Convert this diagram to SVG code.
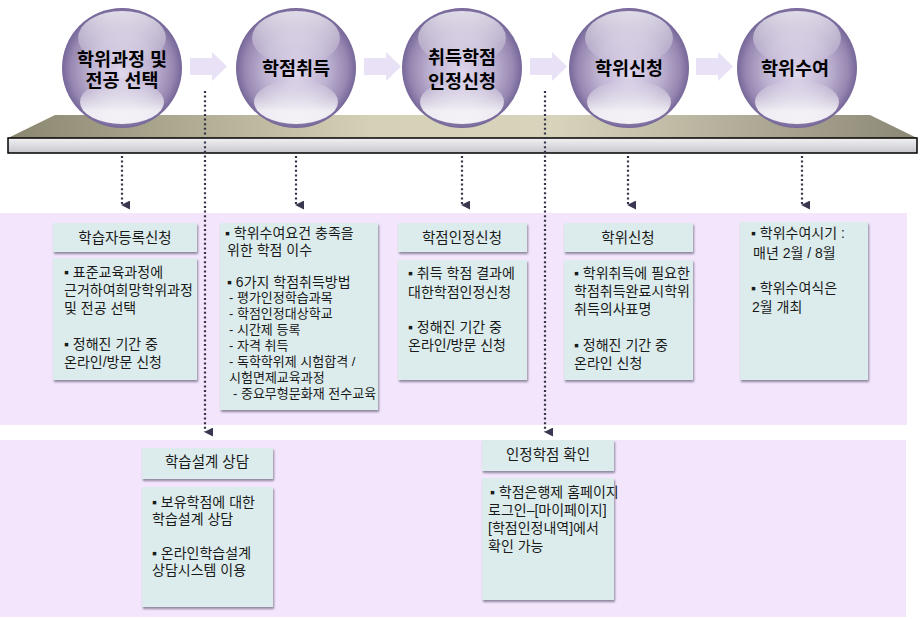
<svg xmlns="http://www.w3.org/2000/svg" width="923" height="620" viewBox="0 0 923 620">
<defs>
  <radialGradient id="sgBody" cx="0.5" cy="0.5" r="0.5" fx="0.5" fy="0.55">
    <stop offset="0" stop-color="#e0d8ec"/>
    <stop offset="0.55" stop-color="#bcb0d0"/>
    <stop offset="0.85" stop-color="#9888b2"/>
    <stop offset="1" stop-color="#76679a"/>
  </radialGradient>
  <linearGradient id="sgTop" x1="0" y1="0" x2="0" y2="1">
    <stop offset="0" stop-color="#ffffff" stop-opacity="0.75"/>
    <stop offset="1" stop-color="#ffffff" stop-opacity="0"/>
  </linearGradient>
  <linearGradient id="sgBot" x1="0" y1="0" x2="0" y2="1">
    <stop offset="0" stop-color="#ffffff" stop-opacity="0"/>
    <stop offset="0.7" stop-color="#ffffff" stop-opacity="0.85"/>
    <stop offset="1" stop-color="#ffffff" stop-opacity="0.9"/>
  </linearGradient>
  <linearGradient id="plat" x1="0" y1="0" x2="1" y2="0">
    <stop offset="0" stop-color="#8b8670"/>
    <stop offset="0.4" stop-color="#d5d1b6"/>
    <stop offset="0.6" stop-color="#d8d4bc"/>
    <stop offset="1" stop-color="#8c8876"/>
  </linearGradient>
  <linearGradient id="bar" x1="0" y1="0" x2="0" y2="1">
    <stop offset="0" stop-color="#f2f2f4"/>
    <stop offset="1" stop-color="#c6c6ce"/>
  </linearGradient>
  <filter id="sh" x="-10%" y="-10%" width="125%" height="130%">
    <feDropShadow dx="1" dy="2" stdDeviation="1" flood-color="#6a6680" flood-opacity="0.75"/>
  </filter>
  <g id="sphere">
    <circle cx="0" cy="0" r="60" fill="url(#sgBody)"/>
    <ellipse cx="0" cy="34" rx="42" ry="22" fill="url(#sgBot)"/>
    <ellipse cx="0" cy="-30" rx="44" ry="27" fill="url(#sgTop)"/>
  </g>
  <path id="chev" d="M0,5 H22 V-1 L37,13.5 L22,28 V22 H0 Z" fill="#e9e1f5"/>
  <marker id="ah" viewBox="0 0 10 10" refX="5" refY="9" markerWidth="9" markerHeight="9" markerUnits="userSpaceOnUse" orient="auto-start-reverse">
    <path d="M0,0 L10,0 L5,10 Z" fill="#3a3850"/>
  </marker>
  <style>
    .band { fill: #f3e5fb; }
    .box { fill: #dcecec; filter: url(#sh); }
    .t { font-family: "Liberation Sans", "Noto Sans CJK KR", sans-serif; fill: #1a1a1a; }
    .hd { font-size: 14.5px; text-anchor: middle; }
    .bd { font-size: 14px; }
    .sm { font-size: 13px; }
    .sp { font-size: 18.5px; font-weight: bold; text-anchor: middle; fill: #000; }
    .dot { fill: none; stroke: #34324a; stroke-width: 2.2; stroke-dasharray: 2 2.6; marker-end: url(#ah); }
  </style>
</defs>

<rect width="923" height="620" fill="#ffffff"/>

<!-- bands -->
<rect class="band" x="0" y="213" width="907" height="212"/>
<rect class="band" x="0" y="440" width="906" height="177"/>

<!-- platform -->
<g id="platform">
  <polygon points="55,115 870,115 917,138 8,138" fill="url(#plat)"/>
  <rect x="8" y="138" width="909" height="15" fill="url(#bar)" stroke="#000" stroke-width="1.5"/>
</g>

<!-- chevron arrows between spheres -->
<g id="flow-arrows">
  <use href="#chev" x="190" y="53"/>
  <use href="#chev" x="364" y="53"/>
  <use href="#chev" x="530" y="53"/>
  <use href="#chev" x="696" y="53"/>
</g>

<!-- spheres -->
<g id="sphere-1"><use href="#sphere" x="122" y="68"/>
  <text class="t sp" x="122" y="66">학위과정 및<tspan x="122" dy="21">전공 선택</tspan></text></g>
<g id="sphere-2"><use href="#sphere" x="296" y="68"/>
  <text class="t sp" x="296" y="75">학점취득</text></g>
<g id="sphere-3"><use href="#sphere" x="462" y="68"/>
  <text class="t sp" x="462" y="64">취득학점<tspan x="462" dy="24">인정신청</tspan></text></g>
<g id="sphere-4"><use href="#sphere" x="629" y="68"/>
  <text class="t sp" x="629" y="75">학위신청</text></g>
<g id="sphere-5"><use href="#sphere" x="797" y="68"/>
  <text class="t sp" x="795" y="75">학위수여</text></g>

<!-- connectors -->
<g id="connectors">
  <line class="dot" x1="122" y1="156" x2="122" y2="205"/>
  <line class="dot" x1="296" y1="156" x2="296" y2="205"/>
  <line class="dot" x1="462" y1="156" x2="462" y2="205"/>
  <line class="dot" x1="628" y1="156" x2="628" y2="205"/>
  <line class="dot" x1="802" y1="156" x2="802" y2="205"/>
  <line class="dot" x1="205" y1="91" x2="205" y2="432"/>
  <line class="dot" x1="545" y1="91" x2="545" y2="432"/>
</g>

<!-- box 1 -->
<g id="box-register">
  <rect class="box" x="53" y="223" width="144" height="29"/>
  <text class="t hd" x="125" y="243">학습자등록신청</text>
  <rect class="box" x="53" y="258" width="144" height="122"/>
  <text class="t bd" x="64" y="277">▪ 표준교육과정에<tspan x="64" dy="18">근거하여희망학위과정</tspan><tspan x="64" dy="18">및 전공 선택</tspan><tspan x="64" dy="36">▪ 정해진 기간 중</tspan><tspan x="64" dy="18">온라인/방문 신청</tspan></text>
</g>

<!-- box 2 -->
<g id="box-credit">
  <rect class="box" x="220" y="223" width="158" height="187"/>
  <text class="t bd" x="225" y="238">▪ 학위수여요건 충족을<tspan x="227" dy="17">위한 학점 이수</tspan><tspan x="227" dy="32">▪ 6가지 학점취득방법</tspan><tspan class="sm" x="229" dy="15">- 평가인정학습과목</tspan><tspan class="sm" x="229" dy="16">- 학점인정대상학교</tspan><tspan class="sm" x="229" dy="16">- 시간제 등록</tspan><tspan class="sm" x="229" dy="16">- 자격 취득</tspan><tspan class="sm" x="229" dy="16">- 독학학위제 시험합격 /</tspan><tspan class="sm" x="229" dy="16">시험면제교육과정</tspan><tspan class="sm" x="233" dy="16">- 중요무형문화재 전수교육</tspan></text>
</g>

<!-- box 3 -->
<g id="box-recognition">
  <rect class="box" x="398" y="223" width="129" height="29"/>
  <text class="t hd" x="462" y="243">학점인정신청</text>
  <rect class="box" x="398" y="260" width="129" height="120"/>
  <text class="t bd" x="408" y="278">▪ 취득 학점 결과에<tspan x="408" dy="19">대한학점인정신청</tspan><tspan x="408" dy="35">▪ 정해진 기간 중</tspan><tspan x="408" dy="18">온라인/방문 신청</tspan></text>
</g>

<!-- box 4 -->
<g id="box-degree-apply">
  <rect class="box" x="564" y="223" width="129" height="29"/>
  <text class="t hd" x="628" y="243">학위신청</text>
  <rect class="box" x="564" y="260" width="129" height="120"/>
  <text class="t bd" x="574" y="278">▪ 학위취득에 필요한<tspan x="574" dy="18">학점취득완료시학위</tspan><tspan x="574" dy="18">취득의사표명</tspan><tspan x="574" dy="36">▪ 정해진 기간 중</tspan><tspan x="574" dy="18">온라인 신청</tspan></text>
</g>

<!-- box 5 -->
<g id="box-degree-award">
  <rect class="box" x="740" y="222" width="128" height="158"/>
  <text class="t bd" x="751" y="238">▪ 학위수여시기 :<tspan x="753" dy="20">매년 2월 / 8월</tspan><tspan x="751" dy="35">▪ 학위수여식은</tspan><tspan x="752" dy="19">2월 개최</tspan></text>
</g>

<!-- lower box 1 -->
<g id="box-consult">
  <rect class="box" x="142" y="448" width="131" height="31"/>
  <text class="t hd" x="207" y="467">학습설계 상담</text>
  <rect class="box" x="142" y="487" width="131" height="120"/>
  <text class="t bd" x="152" y="507">▪ 보유학점에 대한<tspan x="152" dy="17">학습설계 상담</tspan><tspan x="152" dy="34">▪ 온라인학습설계</tspan><tspan x="152" dy="17">상담시스템 이용</tspan></text>
</g>

<!-- lower box 2 -->
<g id="box-check">
  <rect class="box" x="482" y="440" width="132" height="31"/>
  <text class="t hd" x="548" y="460">인정학점 확인</text>
  <rect class="box" x="482" y="478" width="132" height="122"/>
  <text class="t bd" x="490" y="497">▪ 학점은행제 홈페이지<tspan x="488" dy="18">로그인–[마이페이지]</tspan><tspan x="488" dy="18">[학점인정내역]에서</tspan><tspan x="488" dy="18">확인 가능</tspan></text>
</g>
</svg>
